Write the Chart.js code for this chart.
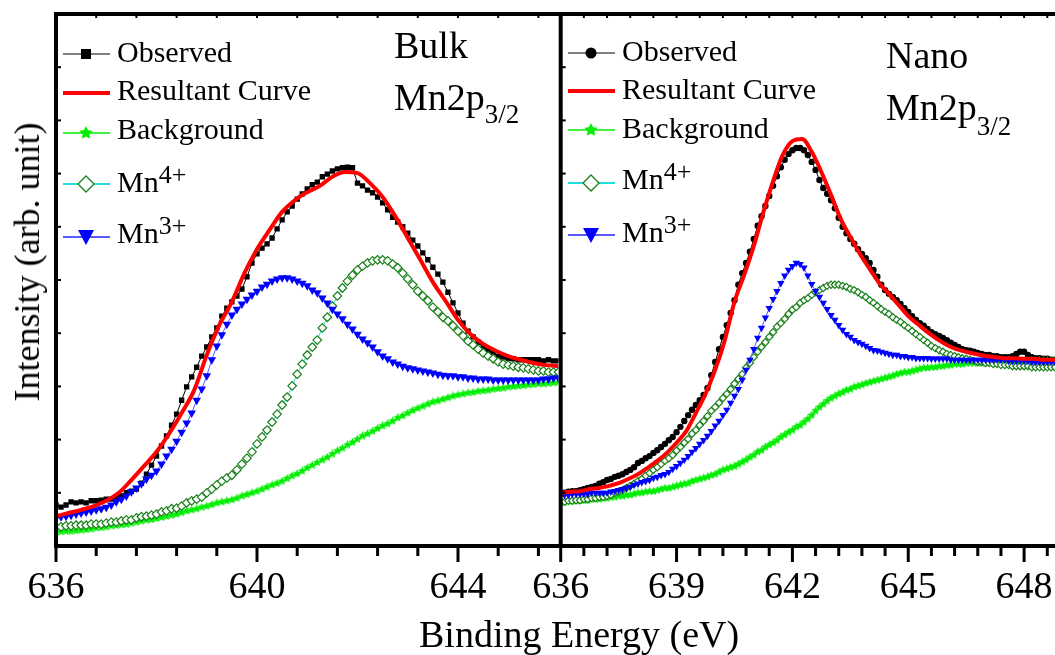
<!DOCTYPE html>
<html>
<head>
<meta charset="utf-8">
<title>Mn 2p3/2 XPS: Bulk and Nano</title>
<script src="https://cdn.jsdelivr.net/npm/chart.js@4.4.1/dist/chart.umd.min.js"></script>
<style>
  html, body { margin: 0; padding: 0; background: #fff; }
  #wrap { position: relative; width: 1055px; height: 655px; overflow: hidden;
          font-family: "Liberation Serif", "Times New Roman", serif; color: #000; }
  #wrap canvas { position: absolute; left: 0; top: 0; }
  .t { position: absolute; white-space: nowrap; line-height: 1; }
  .leg { font-size: 30px; }
  .sup { font-size: 26px; position: relative; top: -9px; }
  .big { font-size: 38px; }
  .sub { font-size: 27px; position: relative; }
  #ytitle { font-size: 36px; left: 27px; top: 262px; transform: translate(-50%, -50%) rotate(-90deg); }
</style>
</head>
<body>
<div id="wrap">
  <canvas id="bulk" width="1055" height="655"></canvas>
  <canvas id="nano" width="1055" height="655"></canvas>

  <!-- legend labels, bulk panel -->
  <div class="t leg" style="left:117px; top:37px;">Observed</div>
  <div class="t leg" style="left:117px; top:75px;">Resultant Curve</div>
  <div class="t leg" style="left:117px; top:114px;">Background</div>
  <div class="t leg" style="left:117px; top:167px;">Mn<span class="sup">4+</span></div>
  <div class="t leg" style="left:117px; top:218px;">Mn<span class="sup">3+</span></div>

  <!-- legend labels, nano panel -->
  <div class="t leg" style="left:622px; top:36px;">Observed</div>
  <div class="t leg" style="left:622px; top:74px;">Resultant Curve</div>
  <div class="t leg" style="left:622px; top:113px;">Background</div>
  <div class="t leg" style="left:622px; top:164px;">Mn<span class="sup">4+</span></div>
  <div class="t leg" style="left:622px; top:217px;">Mn<span class="sup">3+</span></div>

  <!-- panel labels -->
  <div class="t big" style="left:394px; top:26px;">Bulk</div>
  <div class="t big" style="left:394px; top:78px;">Mn2p<span class="sub" style="top:13px;">3/2</span></div>
  <div class="t big" style="left:886px; top:36px;">Nano</div>
  <div class="t big" style="left:886px; top:88px;">Mn2p<span class="sub" style="top:15px;">3/2</span></div>

  <!-- axis titles -->
  <div class="t big" style="left:419px; top:615px;">Binding Energy (eV)</div>
  <div class="t" id="ytitle">Intensity (arb. unit)</div>
</div>

<script>
// ---- energy grids (eV) ----
function energyGrid(start, step, count) {
  return Array.from({ length: count }, (_, i) => +(start + i * step).toFixed(2));
}
const bulkEnergy = energyGrid(636, 0.1, 101);
const bulkFitEnergy = energyGrid(636, 0.25, 41);
const nanoEnergy = energyGrid(636, 0.1, 129);
const nanoFitEnergy = energyGrid(636, 0.25, 53);

// ---- tick labels ----
const bulkTicks = [636, 640, 644];
const nanoTicks = [636, 639, 642, 645, 648];

// ---- Bulk Mn 2p3/2 (arb. units) ----
const bulkObserved = [
  0.77,0.73,0.77,0.83,0.81,0.83,0.81,0.85,0.85,0.86,
  0.88,0.88,0.92,0.94,1.00,1.03,1.07,1.18,1.35,1.52,
  1.69,1.88,2.07,2.27,2.48,2.74,2.99,3.18,3.36,3.57,
  3.74,3.93,4.10,4.32,4.47,4.59,4.70,4.83,5.06,5.32,
  5.49,5.60,5.68,5.79,5.96,6.13,6.28,6.39,6.52,6.62,
  6.71,6.79,6.84,6.94,6.99,7.05,7.09,7.11,7.12,7.11,
  6.82,6.77,6.69,6.64,6.56,6.45,6.32,6.18,6.09,6.00,
  5.88,5.75,5.64,5.51,5.38,5.24,5.11,4.96,4.77,4.57,
  4.38,4.19,4.04,3.93,3.83,3.74,3.68,3.63,3.57,3.55,
  3.53,3.52,3.50,3.50,3.50,3.50,3.50,3.48,3.50,3.48,
  3.48
];
const bulkFit = [
  0.56,0.62,0.68,0.75,0.85,1.00,1.24,1.50,1.77,2.11,
  2.50,2.93,3.59,4.15,4.59,5.13,5.58,5.94,6.28,6.50,
  6.65,6.77,6.94,7.03,7.01,6.82,6.56,6.20,5.79,5.38,
  4.96,4.61,4.25,3.98,3.80,3.67,3.57,3.50,3.44,3.40,
  3.38
];
const bulkBackground = [
  0.26,0.27,0.28,0.28,0.29,0.30,0.31,0.32,0.34,0.35,
  0.36,0.38,0.39,0.40,0.41,0.43,0.45,0.47,0.49,0.50,
  0.52,0.54,0.56,0.58,0.60,0.63,0.66,0.68,0.70,0.73,
  0.75,0.78,0.81,0.83,0.85,0.87,0.90,0.94,0.97,1.00,
  1.03,1.07,1.11,1.15,1.18,1.22,1.27,1.32,1.36,1.41,
  1.47,1.52,1.57,1.62,1.67,1.73,1.79,1.84,1.90,1.95,
  2.01,2.07,2.11,2.16,2.21,2.26,2.30,2.35,2.41,2.45,
  2.50,2.55,2.59,2.63,2.67,2.71,2.73,2.76,2.79,2.82,
  2.84,2.86,2.88,2.89,2.91,2.92,2.93,2.95,2.96,2.97,
  2.99,3.00,3.01,3.02,3.03,3.04,3.05,3.05,3.06,3.07,
  3.08
];
const bulkMn4 = [
  0.36,0.36,0.38,0.38,0.39,0.39,0.39,0.41,0.41,0.41,
  0.43,0.45,0.45,0.47,0.49,0.49,0.53,0.55,0.56,0.58,
  0.60,0.64,0.66,0.70,0.71,0.75,0.81,0.85,0.88,0.92,
  1.00,1.07,1.15,1.22,1.28,1.33,1.43,1.54,1.65,1.77,
  1.92,2.05,2.18,2.33,2.48,2.65,2.80,3.01,3.23,3.42,
  3.59,3.74,3.87,4.10,4.30,4.51,4.70,4.85,4.98,5.09,
  5.19,5.26,5.32,5.36,5.38,5.38,5.36,5.30,5.23,5.13,
  5.02,4.91,4.79,4.70,4.61,4.49,4.40,4.30,4.23,4.14,
  4.04,3.95,3.85,3.78,3.70,3.63,3.57,3.52,3.46,3.42,
  3.40,3.38,3.36,3.35,3.33,3.31,3.29,3.29,3.27,3.27,
  3.27
];
const bulkMn3 = [
  0.53,0.55,0.56,0.58,0.60,0.62,0.64,0.66,0.68,0.70,
  0.73,0.77,0.83,0.88,0.94,1.02,1.09,1.17,1.26,1.33,
  1.41,1.54,1.69,1.82,1.97,2.14,2.31,2.50,2.74,2.95,
  3.20,3.50,3.76,3.97,4.17,4.34,4.45,4.55,4.64,4.72,
  4.79,4.87,4.92,4.98,5.02,5.04,5.04,5.02,4.98,4.94,
  4.89,4.81,4.76,4.66,4.57,4.45,4.36,4.27,4.17,4.08,
  3.98,3.89,3.82,3.74,3.65,3.57,3.52,3.46,3.42,3.38,
  3.35,3.33,3.31,3.29,3.27,3.25,3.23,3.21,3.20,3.20,
  3.18,3.18,3.16,3.16,3.14,3.14,3.14,3.12,3.12,3.12,
  3.12,3.12,3.12,3.12,3.12,3.12,3.12,3.14,3.14,3.16,
  3.16
];

// ---- Nano Mn 2p3/2 (arb. units) ----
const nanoObserved = [
  1.00,1.00,1.02,1.03,1.03,1.05,1.07,1.09,1.11,1.13,
  1.17,1.20,1.24,1.26,1.30,1.32,1.35,1.39,1.43,1.48,
  1.56,1.60,1.65,1.69,1.75,1.80,1.86,1.92,1.99,2.05,
  2.14,2.24,2.35,2.46,2.56,2.65,2.74,2.84,2.97,3.21,
  3.46,3.70,3.93,4.15,4.38,4.62,4.91,5.13,5.32,5.53,
  5.77,6.02,6.20,6.39,6.58,6.77,6.95,7.12,7.26,7.37,
  7.44,7.48,7.48,7.44,7.35,7.22,7.07,6.88,6.73,6.62,
  6.50,6.35,6.17,6.00,5.88,5.77,5.68,5.58,5.49,5.41,
  5.32,5.19,5.06,4.91,4.81,4.74,4.68,4.62,4.55,4.47,
  4.40,4.32,4.25,4.19,4.14,4.08,4.02,3.98,3.95,3.91,
  3.87,3.82,3.78,3.74,3.70,3.68,3.67,3.65,3.63,3.61,
  3.59,3.59,3.57,3.57,3.55,3.55,3.55,3.57,3.61,3.65,
  3.65,3.59,3.55,3.53,3.53,3.52,3.52,3.50,3.50
];
const nanoFit = [
  1.00,1.02,1.03,1.07,1.09,1.13,1.18,1.26,1.35,1.47,
  1.60,1.75,1.94,2.16,2.50,2.86,3.31,3.87,4.59,5.09,
  5.64,6.28,6.86,7.35,7.61,7.65,7.41,7.03,6.60,6.15,
  5.81,5.49,5.21,4.94,4.74,4.53,4.32,4.17,4.02,3.89,
  3.78,3.70,3.65,3.61,3.57,3.55,3.53,3.53,3.52,3.52,
  3.50,3.50,3.50
];
const nanoBackground = [
  0.83,0.83,0.85,0.85,0.85,0.86,0.86,0.86,0.88,0.88,
  0.88,0.90,0.90,0.92,0.92,0.94,0.94,0.96,0.96,0.98,
  1.00,1.00,1.02,1.03,1.03,1.05,1.07,1.09,1.09,1.11,
  1.13,1.15,1.17,1.18,1.22,1.24,1.26,1.28,1.30,1.33,
  1.35,1.39,1.43,1.45,1.48,1.50,1.54,1.58,1.62,1.67,
  1.71,1.77,1.80,1.86,1.90,1.94,1.99,2.05,2.09,2.14,
  2.18,2.24,2.27,2.33,2.39,2.46,2.54,2.61,2.67,2.73,
  2.78,2.82,2.86,2.89,2.93,2.95,2.99,3.01,3.03,3.06,
  3.08,3.10,3.12,3.14,3.16,3.18,3.20,3.23,3.25,3.27,
  3.27,3.29,3.31,3.33,3.35,3.35,3.36,3.36,3.38,3.38,
  3.40,3.40,3.42,3.42,3.42,3.44,3.44,3.44,3.44,3.44,
  3.44,3.46,3.46,3.46,3.46,3.46,3.46,3.46,3.46,3.46,
  3.46,3.46,3.48,3.48,3.48,3.48,3.48,3.48,3.48
];
const nanoMn4 = [
  0.83,0.83,0.85,0.85,0.86,0.86,0.88,0.88,0.90,0.90,
  0.92,0.92,0.94,0.96,1.00,1.02,1.05,1.09,1.13,1.17,
  1.22,1.26,1.32,1.37,1.43,1.48,1.54,1.60,1.65,1.71,
  1.79,1.86,1.94,2.01,2.11,2.18,2.27,2.35,2.44,2.54,
  2.61,2.69,2.78,2.86,2.95,3.05,3.14,3.23,3.35,3.44,
  3.55,3.65,3.74,3.83,3.93,4.02,4.12,4.19,4.27,4.36,
  4.44,4.49,4.57,4.62,4.66,4.72,4.77,4.81,4.85,4.89,
  4.91,4.91,4.91,4.89,4.87,4.83,4.81,4.77,4.72,4.68,
  4.62,4.57,4.51,4.45,4.40,4.36,4.30,4.25,4.21,4.15,
  4.10,4.04,3.98,3.93,3.87,3.82,3.76,3.72,3.68,3.65,
  3.61,3.59,3.57,3.55,3.53,3.52,3.50,3.48,3.46,3.46,
  3.44,3.44,3.42,3.42,3.40,3.40,3.40,3.38,3.38,3.38,
  3.38,3.38,3.36,3.36,3.36,3.36,3.36,3.36,3.36
];
const nanoMn3 = [
  0.96,0.96,0.96,0.98,0.98,0.98,0.98,0.98,1.00,1.00,
  1.00,1.00,1.00,1.02,1.03,1.05,1.07,1.09,1.11,1.15,
  1.17,1.20,1.22,1.24,1.28,1.30,1.33,1.35,1.39,1.45,
  1.50,1.56,1.62,1.69,1.77,1.84,1.92,1.99,2.07,2.16,
  2.26,2.35,2.46,2.56,2.69,2.82,2.95,3.12,3.31,3.50,
  3.70,3.91,4.10,4.29,4.47,4.64,4.79,4.94,5.08,5.19,
  5.26,5.32,5.30,5.23,5.08,4.92,4.79,4.68,4.57,4.45,
  4.34,4.25,4.15,4.06,3.98,3.93,3.87,3.83,3.80,3.76,
  3.72,3.68,3.67,3.65,3.63,3.61,3.59,3.59,3.57,3.57,
  3.55,3.55,3.53,3.53,3.53,3.53,3.52,3.52,3.52,3.52,
  3.52,3.50,3.50,3.50,3.50,3.50,3.50,3.50,3.50,3.50,
  3.50,3.50,3.50,3.50,3.50,3.50,3.48,3.48,3.48,3.48,
  3.48,3.48,3.46,3.46,3.46,3.46,3.46,3.46,3.46
];

// ---- colours ----
const C_OBS = '#000000';
const C_FIT = '#ff0000';
const C_BG = '#00ee00';
const C_MN4 = '#1a801a';
const C_MN4_LINE = '#22dddd';
const C_MN3 = '#0000ff';
const C_MN3_LINE = '#5a5aff';

// small filled five-point star used as a point marker
function starSprite(d, color) {
  const c = document.createElement('canvas');
  c.width = d; c.height = d;
  const g = c.getContext('2d');
  const R = d / 2, r = R * 0.5;
  g.beginPath();
  for (let k = 0; k < 10; k++) {
    const ang = -Math.PI / 2 + k * Math.PI / 5;
    const rr = k % 2 ? r : R;
    g.lineTo(d / 2 + rr * Math.cos(ang), d / 2 + rr * Math.sin(ang));
  }
  g.closePath();
  g.fillStyle = color;
  g.fill();
  return c;
}
const starPoint = starSprite(9, C_BG);
const starLegend = starSprite(14, C_BG);

function pairs(xs, ys) { return xs.map((x, i) => ({ x: x, y: ys[i] })); }

// axis frame with Origin-style ticks: long/short outward ticks at the bottom,
// short inward ticks on the top and left edges
const panelFrame = {
  id: 'panelFrame',
  afterDatasetsDraw(chart, args, o) {
    const { ctx, chartArea: a, scales: { x, y } } = chart;
    ctx.save();
    ctx.strokeStyle = '#000';
    ctx.lineCap = 'butt';
    const n = Math.floor((x.max - x.min) / o.minor + 1e-6);
    for (let k = 0; k <= n; k++) {
      const px = x.getPixelForValue(x.min + k * o.minor);
      const major = k % 5 === 0;
      ctx.lineWidth = 3;
      ctx.beginPath();
      ctx.moveTo(px, a.bottom);
      ctx.lineTo(px, a.bottom + (major ? 16 : 10));
      ctx.stroke();
      ctx.lineWidth = 2;
      ctx.beginPath();
      ctx.moveTo(px, a.top);
      ctx.lineTo(px, a.top + 4);
      ctx.stroke();
    }
    ctx.lineWidth = 2;
    for (let v = y.min + 1; v < y.max; v += 1) {
      const py = y.getPixelForValue(v);
      ctx.beginPath();
      ctx.moveTo(a.left, py);
      ctx.lineTo(a.left + 5, py);
      ctx.stroke();
    }
    ctx.lineWidth = 4;
    ctx.beginPath();
    ctx.moveTo(a.left, a.top - 2);
    ctx.lineTo(a.left, a.bottom + 2);
    ctx.moveTo(a.left - 2, a.top);
    ctx.lineTo(a.right + o.extend, a.top);
    ctx.moveTo(a.left - 2, a.bottom);
    ctx.lineTo(a.right + o.extend, a.bottom);
    ctx.stroke();
    ctx.restore();
  }
};

// legend keys: a short line with the series marker in its middle
const legendKeys = {
  id: 'legendKeys',
  afterDraw(chart, args, o) {
    const ctx = chart.ctx;
    ctx.save();
    o.rows.forEach(r => {
      ctx.strokeStyle = r.color;
      ctx.lineWidth = r.width;
      ctx.beginPath();
      ctx.moveTo(o.x0, r.y);
      ctx.lineTo(o.x1, r.y);
      ctx.stroke();
      const cx = o.cx, cy = r.y;
      ctx.lineWidth = 1.3;
      if (r.mark === 'square') {
        ctx.fillStyle = C_OBS;
        ctx.fillRect(cx - 5, cy - 5, 10, 10);
      } else if (r.mark === 'circle') {
        ctx.fillStyle = C_OBS;
        ctx.beginPath(); ctx.arc(cx, cy, 5.5, 0, Math.PI * 2); ctx.fill();
      } else if (r.mark === 'star') {
        ctx.drawImage(starLegend, cx - 7, cy - 7);
      } else if (r.mark === 'diamond') {
        ctx.beginPath();
        ctx.moveTo(cx, cy - 8); ctx.lineTo(cx + 8, cy); ctx.lineTo(cx, cy + 8); ctx.lineTo(cx - 8, cy);
        ctx.closePath();
        ctx.fillStyle = '#fff'; ctx.fill();
        ctx.strokeStyle = C_MN4; ctx.stroke();
      } else if (r.mark === 'triangle') {
        ctx.beginPath();
        ctx.moveTo(cx - 8, cy - 7); ctx.lineTo(cx + 8, cy - 7); ctx.lineTo(cx, cy + 8);
        ctx.closePath();
        ctx.fillStyle = C_MN3; ctx.fill();
      }
    });
    ctx.restore();
  }
};

function buildDatasets(p) {
  return [
    { label: 'Observed', data: pairs(p.energy, p.observed), order: 4,
      borderColor: C_OBS, borderWidth: 1, pointStyle: p.obsStyle, pointRadius: p.obsRadius,
      pointBackgroundColor: C_OBS, pointBorderColor: C_OBS, pointBorderWidth: 0 },
    { label: 'Resultant Curve', data: pairs(p.fitEnergy, p.fit), order: 0,
      borderColor: C_FIT, borderWidth: 4, pointRadius: 0, cubicInterpolationMode: 'monotone' },
    { label: 'Background', data: pairs(p.energy, p.background), order: 3,
      borderColor: C_BG, borderWidth: 1, pointStyle: starPoint, pointRadius: 4 },
    { label: 'Mn4+', data: pairs(p.energy, p.mn4), order: 2,
      borderColor: C_MN4_LINE, borderWidth: 1, pointStyle: 'rectRot', pointRadius: p.mn4Radius,
      pointBackgroundColor: '#ffffff', pointBorderColor: C_MN4, pointBorderWidth: 1.2 },
    { label: 'Mn3+', data: pairs(p.energy, p.mn3), order: 1,
      borderColor: C_MN3_LINE, borderWidth: 1, pointStyle: 'triangle', pointRotation: 180,
      pointRadius: p.mn3Radius, pointBackgroundColor: C_MN3, pointBorderColor: C_MN3, pointBorderWidth: 0 }
  ];
}

function panel(canvasId, p) {
  return new Chart(document.getElementById(canvasId), {
    type: 'line',
    data: { datasets: buildDatasets(p) },
    plugins: [panelFrame, legendKeys],
    options: {
      responsive: false,
      animation: false,
      devicePixelRatio: 1,
      events: [],
      layout: { autoPadding: false, padding: { left: p.padLeft, right: p.padRight, top: 14, bottom: 0 } },
      elements: { line: { tension: 0 } },
      plugins: {
        legend: { display: false },
        tooltip: { enabled: false },
        panelFrame: { minor: p.minor, extend: p.extend },
        legendKeys: p.legend
      },
      scales: {
        x: {
          type: 'linear', min: p.xMin, max: p.xMax,
          grid: { display: false, drawTicks: false },
          border: { display: false },
          afterBuildTicks: s => { s.ticks = p.ticks.map(v => ({ value: v })); },
          afterFit: s => { s.height = 109; s.paddingLeft = 0; s.paddingRight = 0; },
          ticks: {
            autoSkip: false, maxRotation: 0, minRotation: 0, padding: 19, color: '#000',
            font: { family: 'Liberation Serif', size: 38 }
          }
        },
        y: { display: false, min: 0, max: 10 }
      }
    }
  });
}

panel('bulk', {
  energy: bulkEnergy, fitEnergy: bulkFitEnergy,
  observed: bulkObserved, fit: bulkFit, background: bulkBackground, mn4: bulkMn4, mn3: bulkMn3,
  obsStyle: 'rect', obsRadius: 3.8, mn4Radius: 4.3, mn3Radius: 5,
  xMin: 636, xMax: 646, ticks: bulkTicks, minor: 0.8,
  padLeft: 56, padRight: 496.5, extend: 2,
  legend: { x0: 63, x1: 110, cx: 86, rows: [
    { y: 54, color: C_OBS, width: 1, mark: 'square' },
    { y: 93, color: C_FIT, width: 4, mark: null },
    { y: 133, color: C_BG, width: 1.5, mark: 'star' },
    { y: 184, color: C_MN4_LINE, width: 2, mark: 'diamond' },
    { y: 237, color: C_MN3_LINE, width: 2, mark: 'triangle' }
  ] }
});

panel('nano', {
  energy: nanoEnergy, fitEnergy: nanoFitEnergy,
  observed: nanoObserved, fit: nanoFit, background: nanoBackground, mn4: nanoMn4, mn3: nanoMn3,
  obsStyle: 'circle', obsRadius: 3.2, mn4Radius: 3.6, mn3Radius: 4.3,
  xMin: 636, xMax: 648.8, ticks: nanoTicks, minor: 0.6,
  padLeft: 560.7, padRight: 0, extend: 2,
  legend: { x0: 568, x1: 615, cx: 591, rows: [
    { y: 53, color: C_OBS, width: 1, mark: 'circle' },
    { y: 91, color: C_FIT, width: 4, mark: null },
    { y: 130, color: C_BG, width: 1.5, mark: 'star' },
    { y: 183, color: C_MN4_LINE, width: 2, mark: 'diamond' },
    { y: 235, color: C_MN3_LINE, width: 2, mark: 'triangle' }
  ] }
});
</script>
</body>
</html>
